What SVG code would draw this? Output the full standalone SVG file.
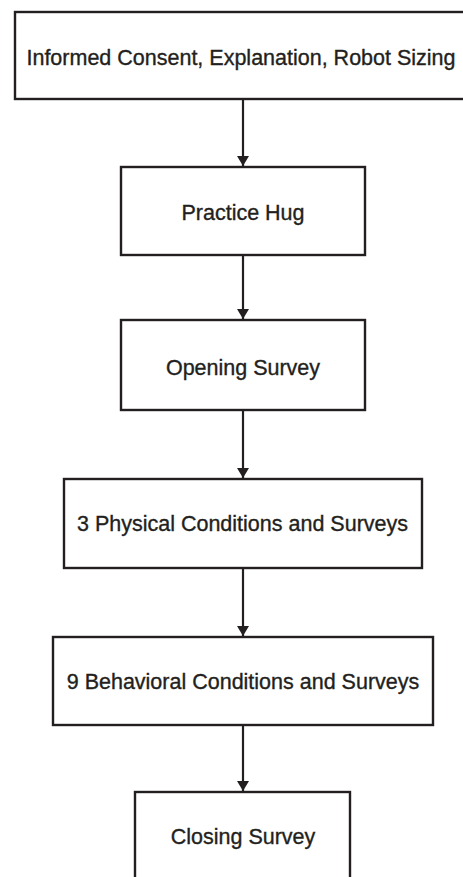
<svg xmlns="http://www.w3.org/2000/svg" width="463" height="877" viewBox="0 0 463 877">
  <style>
    .box { fill: #ffffff; stroke: #231f20; stroke-width: 2.4; }
    .label { font-family: "Liberation Sans", Arial, sans-serif; font-size: 21.5px; fill: #231f20; stroke: #231f20; stroke-width: 0.35; text-anchor: middle; }
    .conn { stroke: #231f20; stroke-width: 2.2; fill: none; marker-end: url(#arrow); }
  </style>
  <defs>
    <marker id="arrow" markerUnits="userSpaceOnUse" markerWidth="10" markerHeight="12" refX="10" refY="6" orient="auto" viewBox="0 0 10 12">
      <path d="M0,0 L10,6 L0,12 Z" fill="#231f20"/>
    </marker>
  </defs>
  <rect width="463" height="877" fill="#ffffff"/>
  <g id="connectors">
    <line class="conn" x1="243" y1="99" x2="243" y2="166"/>
    <line class="conn" x1="243" y1="255" x2="243" y2="319"/>
    <line class="conn" x1="243" y1="410" x2="243" y2="478"/>
    <line class="conn" x1="243" y1="568" x2="243" y2="636"/>
    <line class="conn" x1="243" y1="725" x2="243" y2="791"/>
  </g>
  <g id="node-consent">
    <rect class="box" x="15" y="12" width="460" height="87"/>
    <text class="label" x="241" y="65">Informed Consent, Explanation, Robot Sizing</text>
  </g>
  <g id="node-practice">
    <rect class="box" x="121" y="167" width="244" height="88"/>
    <text class="label" x="243" y="219.5">Practice Hug</text>
  </g>
  <g id="node-opening">
    <rect class="box" x="121" y="320" width="244" height="90"/>
    <text class="label" x="243" y="374.5">Opening Survey</text>
  </g>
  <g id="node-physical">
    <rect class="box" x="64" y="479" width="358" height="89"/>
    <text class="label" x="242.5" y="531">3 Physical Conditions and Surveys</text>
  </g>
  <g id="node-behavioral">
    <rect class="box" x="53" y="637" width="380" height="88"/>
    <text class="label" x="243" y="689">9 Behavioral Conditions and Surveys</text>
  </g>
  <g id="node-closing">
    <rect class="box" x="135" y="792" width="215" height="100"/>
    <text class="label" x="243" y="844">Closing Survey</text>
  </g>
</svg>
